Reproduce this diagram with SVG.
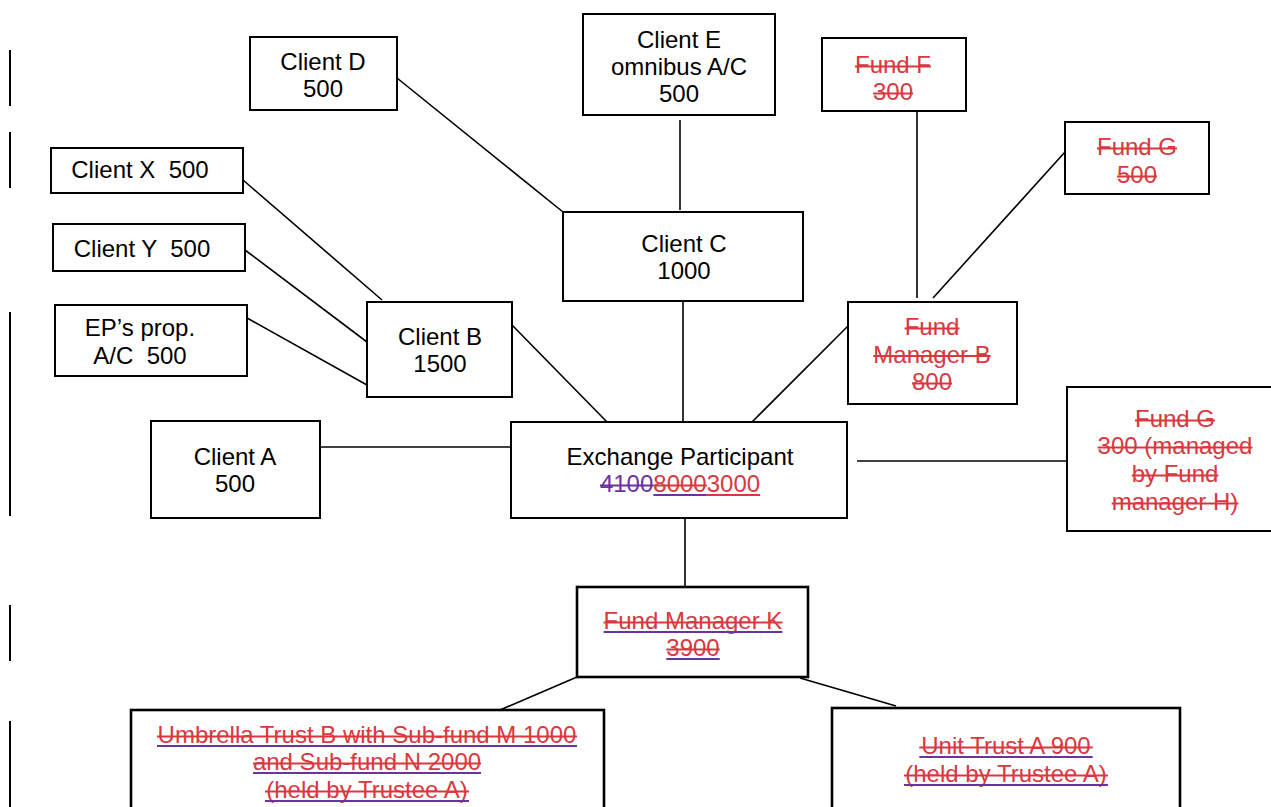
<svg xmlns="http://www.w3.org/2000/svg" width="1271" height="807" viewBox="0 0 1271 807">
<style>
.box{fill:#fff;stroke:#000;stroke-width:2}
.boxb{fill:#fff;stroke:#000;stroke-width:2.6}
.t{font-family:"Liberation Sans",Arial,sans-serif;font-size:24px;text-anchor:middle;fill:#000}
.r{fill:#d9383e}
.p{fill:#6b33a0}
.sr{stroke:#d9383e;stroke-width:1.8}
.sp{stroke:#6b33a0;stroke-width:1.8}
.c{stroke:#000;stroke-width:1.6;fill:none}
.bar{stroke:#000;stroke-width:2}
</style>
<rect width="1271" height="807" fill="#fff"/>
<g id="margin-bars">
<line class="bar" x1="10" y1="50" x2="10" y2="106"/>
<line class="bar" x1="10" y1="132" x2="10" y2="188"/>
<line class="bar" x1="10" y1="312" x2="10" y2="516"/>
<line class="bar" x1="10" y1="605" x2="10" y2="661"/>
<line class="bar" x1="10" y1="721" x2="10" y2="807"/>
</g>
<g id="connectors">
<line class="c" x1="397" y1="78" x2="563" y2="212"/>
<line class="c" x1="680" y1="120" x2="680" y2="210"/>
<line class="c" x1="917" y1="111" x2="917" y2="298"/>
<line class="c" x1="1065" y1="152" x2="933" y2="298"/>
<line class="c" x1="243" y1="180" x2="382" y2="300"/>
<line class="c" x1="245" y1="250" x2="367" y2="342"/>
<line class="c" x1="247" y1="318" x2="367" y2="385"/>
<line class="c" x1="512" y1="325" x2="607" y2="422"/>
<line class="c" x1="683" y1="301" x2="683" y2="422"/>
<line class="c" x1="848" y1="326" x2="752" y2="422"/>
<line class="c" x1="320" y1="447" x2="511" y2="447"/>
<line class="c" x1="857" y1="461" x2="1067" y2="461"/>
<line class="c" x1="685" y1="518" x2="685" y2="587"/>
<line class="c" x1="577" y1="677" x2="500" y2="710"/>
<line class="c" x1="800" y1="678" x2="896" y2="706"/>
</g>
<g id="client-d">
<rect class="box" x="250" y="37" width="147" height="73"/>
<text class="t" x="323" y="70">Client D</text>
<text class="t" x="323" y="97">500</text>
</g>
<g id="client-e">
<rect class="box" x="583" y="14" width="192" height="101"/>
<text class="t" x="679" y="48">Client E</text>
<text class="t" x="679" y="75">omnibus A/C</text>
<text class="t" x="679" y="102">500</text>
</g>
<g id="fund-f">
<rect class="box" x="822" y="38" width="144" height="73"/>
<text class="t r" x="893" y="73">Fund F</text>
<text class="t r" x="893" y="100">300</text>
<line class="sr" x1="855" y1="66.5" x2="931" y2="66.5"/>
<line class="sr" x1="873" y1="93.5" x2="913" y2="93.5"/>
</g>
<g id="fund-g-top">
<rect class="box" x="1065" y="122" width="144" height="72"/>
<text class="t r" x="1137" y="155">Fund G</text>
<text class="t r" x="1137" y="183">500</text>
<line class="sr" x1="1097" y1="148.5" x2="1177" y2="148.5"/>
<line class="sr" x1="1117" y1="176.5" x2="1157" y2="176.5"/>
</g>
<g id="client-x">
<rect class="box" x="51" y="148" width="192" height="45"/>
<text class="t" x="140" y="178" xml:space="preserve">Client X  500</text>
</g>
<g id="client-y">
<rect class="box" x="53" y="224" width="192" height="47"/>
<text class="t" x="142" y="257" xml:space="preserve">Client Y  500</text>
</g>
<g id="ep-prop">
<rect class="box" x="55" y="305" width="192" height="71"/>
<text class="t" x="140" y="336">EP’s prop.</text>
<text class="t" x="140" y="364" xml:space="preserve">A/C  500</text>
</g>
<g id="client-b">
<rect class="box" x="367" y="302" width="145" height="95"/>
<text class="t" x="440" y="345">Client B</text>
<text class="t" x="440" y="372">1500</text>
</g>
<g id="client-c">
<rect class="box" x="563" y="212" width="240" height="89"/>
<text class="t" x="684" y="252">Client C</text>
<text class="t" x="684" y="279">1000</text>
</g>
<g id="fund-manager-b">
<rect class="box" x="848" y="302" width="169" height="102"/>
<text class="t r" x="932" y="335">Fund</text>
<text class="t r" x="932" y="362.5">Manager B</text>
<text class="t r" x="932" y="390">800</text>
<line class="sr" x1="904.6" y1="328.5" x2="959.4" y2="328.5"/>
<line class="sr" x1="873.3" y1="356" x2="990.7" y2="356"/>
<line class="sr" x1="912" y1="383.5" x2="952" y2="383.5"/>
</g>
<g id="client-a">
<rect class="box" x="151" y="421" width="169" height="97"/>
<text class="t" x="235" y="465">Client A</text>
<text class="t" x="235" y="492">500</text>
</g>
<g id="exchange-participant">
<rect class="box" x="511" y="422" width="336" height="96"/>
<text class="t" x="680" y="465">Exchange Participant</text>
<text class="t" x="680" y="492"><tspan class="p">4100</tspan><tspan class="r">8000</tspan><tspan class="r">3000</tspan></text>
<line class="sp" x1="600" y1="485.5" x2="653.4" y2="485.5"/>
<line class="sr" x1="653.4" y1="485.5" x2="706.8" y2="485.5"/>
<line class="sp" x1="653.4" y1="495" x2="706.8" y2="495"/>
<line class="sr" x1="706.8" y1="495" x2="760.2" y2="495"/>
</g>
<g id="fund-g-right">
<rect class="box" x="1067" y="387" width="230" height="144"/>
<text class="t r" x="1175" y="427">Fund G</text>
<text class="t r" x="1175" y="454">300 (managed</text>
<text class="t r" x="1175" y="482">by Fund</text>
<text class="t r" x="1175" y="510">manager H)</text>
<line class="sr" x1="1135" y1="420.5" x2="1215" y2="420.5"/>
<line class="sr" x1="1097.6" y1="447.5" x2="1252.4" y2="447.5"/>
<line class="sr" x1="1131.7" y1="475.5" x2="1218.4" y2="475.5"/>
<line class="sr" x1="1111.7" y1="503.5" x2="1238.4" y2="503.5"/>
</g>
<g id="fund-manager-k">
<rect class="boxb" x="577" y="587" width="231" height="90"/>
<text class="t r" x="693" y="629">Fund Manager K</text>
<text class="t r" x="693" y="656">3900</text>
<line class="sr" x1="603.6" y1="622.5" x2="782.4" y2="622.5"/>
<line class="sp" x1="603.6" y1="632" x2="782.4" y2="632"/>
<line class="sr" x1="666.3" y1="649.5" x2="719.7" y2="649.5"/>
<line class="sp" x1="666.3" y1="659" x2="719.7" y2="659"/>
</g>
<g id="umbrella-trust-b">
<rect class="boxb" x="131" y="710" width="473" height="120"/>
<text class="t r" x="367" y="743">Umbrella Trust B with Sub-fund M 1000</text>
<text class="t r" x="367" y="770">and Sub-fund N 2000</text>
<text class="t r" x="367" y="798">(held by Trustee A)</text>
<line class="sr" x1="157" y1="736.5" x2="577" y2="736.5"/>
<line class="sp" x1="157" y1="746" x2="577" y2="746"/>
<line class="sr" x1="253" y1="763.5" x2="481" y2="763.5"/>
<line class="sp" x1="253" y1="773" x2="481" y2="773"/>
<line class="sr" x1="265" y1="791.5" x2="469" y2="791.5"/>
<line class="sp" x1="265" y1="801" x2="469" y2="801"/>
</g>
<g id="unit-trust-a">
<rect class="boxb" x="832" y="708" width="348" height="122"/>
<text class="t r" x="1006" y="754">Unit Trust A 900</text>
<text class="t r" x="1006" y="782">(held by Trustee A)</text>
<line class="sr" x1="919.3" y1="747.5" x2="1092.7" y2="747.5"/>
<line class="sp" x1="919.3" y1="757" x2="1092.7" y2="757"/>
<line class="sr" x1="904" y1="775.5" x2="1108" y2="775.5"/>
<line class="sp" x1="904" y1="785" x2="1108" y2="785"/>
</g>
</svg>
